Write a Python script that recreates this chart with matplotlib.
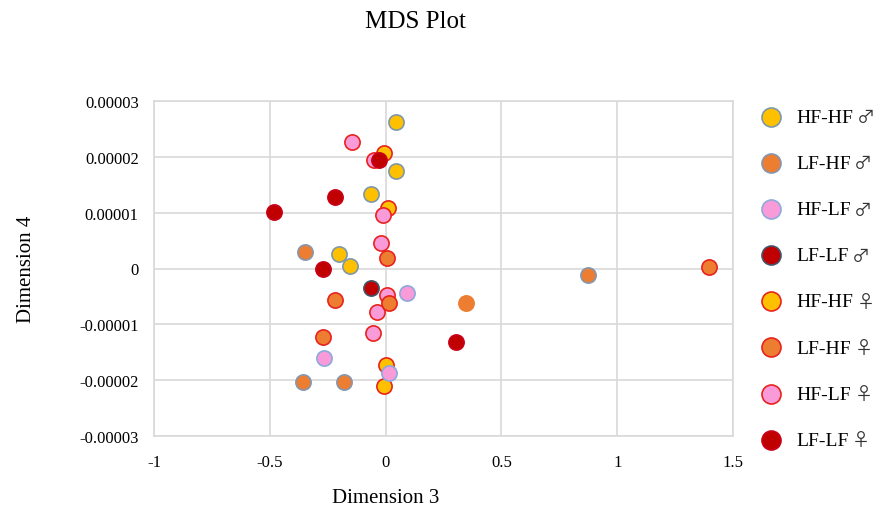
import matplotlib
matplotlib.use("Agg")
import matplotlib.pyplot as plt

plt.rcParams['font.family'] = ['Liberation Serif', 'DejaVu Sans']

# MDS coordinates (dimension 3, dimension 4 in units of 1e-5)
hfhf_m_x = [0.046, 0.046, -0.065, -0.20, -0.155]
hfhf_m_y = [2.62, 1.74, 1.34, 0.26, 0.05]
lfhf_m_x = [-0.35, 0.874, -0.357, -0.18]
lfhf_m_y = [0.30, -0.12, -2.04, -2.04]
hflf_m_x = [0.094, -0.268, 0.016]
hflf_m_y = [-0.44, -1.61, -1.88]
lflf_m_x = [-0.062]
lflf_m_y = [-0.35]
hfhf_f_x = [-0.007, 0.009, 0.003, -0.009]
hfhf_f_y = [2.07, 1.09, -1.73, -2.11]
lfhf_f_x = [0.007, -0.219, 0.016, -0.272, 1.395]
lfhf_f_y = [0.18, -0.57, -0.61, -1.23, 0.03]
hflf_f_x = [-0.144, -0.048, -0.010, -0.022, 0.007, -0.036, -0.056]
hflf_f_y = [2.27, 1.95, 0.96, 0.46, -0.48, -0.78, -1.15]
lflf_f_x = [-0.029, -0.22, -0.484, -0.271, 0.305]
lflf_f_y = [1.95, 1.28, 1.02, -0.01, -1.31]
# one orange point drawn without a visible outline
odd_x = [0.349]
odd_y = [-0.61]

groups = ['HF-HF', 'LF-HF', 'HF-LF', 'LF-LF', 'HF-HF', 'LF-HF', 'HF-LF', 'LF-LF']
sexes = ['♂', '♂', '♂', '♂', '♀', '♀', '♀', '♀']
series = [(hfhf_m_x, hfhf_m_y), (lfhf_m_x, lfhf_m_y), (hflf_m_x, hflf_m_y), (lflf_m_x, lflf_m_y),
          (hfhf_f_x, hfhf_f_y), (lfhf_f_x, lfhf_f_y), (hflf_f_x, hflf_f_y), (lflf_f_x, lflf_f_y)]
fills = ['#FFC000', '#ED7D31', '#F99BD8', '#C00000',
         '#FFC000', '#ED7D31', '#F99BD8', '#C00000']
edges = ['#7F98A8', '#8496B0', '#8EA9DB', '#44546A',
         '#E8231E', '#E8231E', '#E8231E', '#C8001A']
# stacking order seen in the picture (males on top)
layers = [4, 4, 4, 4, 3.0, 3.2, 3.1, 3.3]

x_ticks = [-1, -0.5, 0, 0.5, 1, 1.5]
y_ticks = [-3, -2, -1, 0, 1, 2, 3]

fig = plt.figure(figsize=(8.75, 5.1), dpi=100)
ax = fig.add_axes([154 / 875, 1 - 437 / 510, 579 / 875, 335 / 510])

for (xs, ys), lab, fc, ec, z in zip(series, groups, fills, edges, layers):
    ax.scatter(xs, [v * 1e-5 for v in ys], s=120, c=fc, edgecolors=ec,
               linewidths=1.2, label=lab, zorder=z)
ax.scatter(odd_x, [v * 1e-5 for v in odd_y], s=120, c='#ED7D31', edgecolors='#ED7D31',
           linewidths=1.2, label='_nolegend_', zorder=3)

ax.set_xlim(-1, 1.5)
ax.set_ylim(-3e-5, 3e-5)
ax.set_xticks(x_ticks)
ax.set_xticklabels([f'{v:g}' for v in x_ticks])
ax.set_yticks([v * 1e-5 for v in y_ticks])
ax.set_yticklabels(['0' if v == 0 else f'{v * 1e-5:.5f}' for v in y_ticks])
ax.tick_params(length=0, labelsize=12)
ax.tick_params(axis='x', pad=13)
ax.tick_params(axis='y', pad=11)
ax.grid(True, color='#D9D9D9', linewidth=1.2, zorder=0)
ax.set_axisbelow(True)
for sp in ax.spines.values():
    sp.set_color('#D9D9D9')
    sp.set_linewidth(1.2)

ax.set_xlabel('Dimension 3', fontsize=15)
ax.xaxis.set_label_coords(0.40, -0.155)
ax.set_ylabel('Dimension 4', fontsize=15)
ax.yaxis.set_label_coords(-0.204, 0.5)

fig.text(415 / 875, 1 - 22 / 510, 'MDS Plot', fontsize=18, ha='center', va='center')

leg = ax.legend(loc='upper left', bbox_to_anchor=(752 / 875, 1 - 109 / 510),
                bbox_transform=fig.transFigure, frameon=False, fontsize=14,
                labelspacing=1.47, handletextpad=0.3, borderaxespad=0, borderpad=0,
                scatterpoints=1, markerscale=1.25)

# sex symbols after each legend entry, in a font that draws them full size
fig.canvas.draw()
r = fig.canvas.get_renderer()
inv = fig.transFigure.inverted()
for t, sx in zip(leg.get_texts(), sexes):
    bb = t.get_window_extent(r)
    x0, y0 = inv.transform((bb.x1 + 3, (bb.y0 + bb.y1) / 2))
    fig.text(x0, y0, sx, fontsize=13, family='Noto Sans CJK JP', color='#333333',
             ha='left', va='center')

fig.savefig('out.png', dpi=100)
